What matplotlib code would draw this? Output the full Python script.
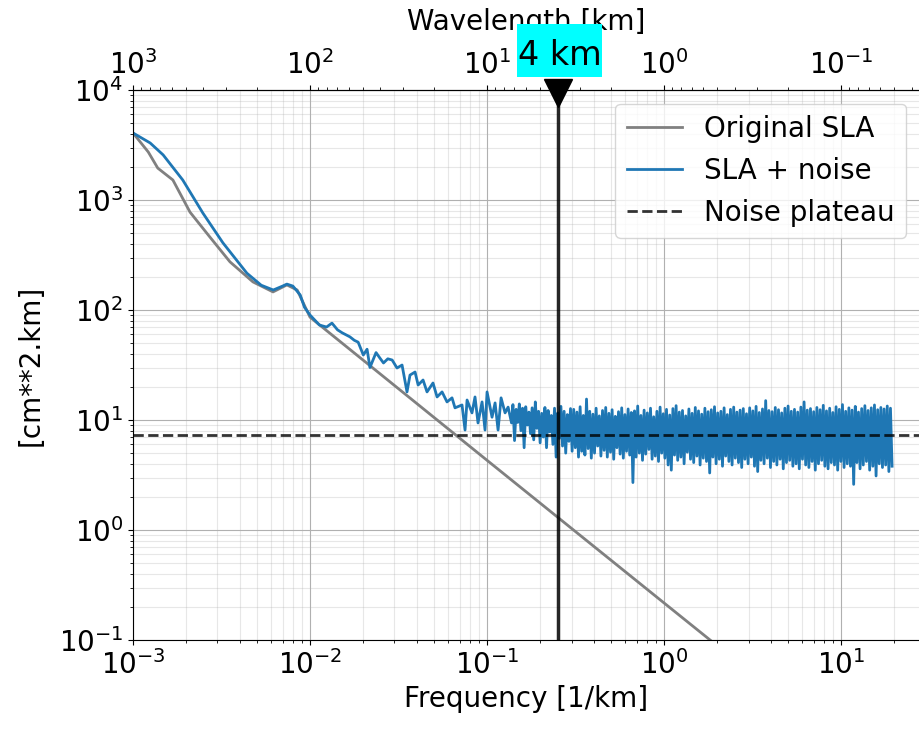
import matplotlib
matplotlib.use("Agg")
import matplotlib.pyplot as plt
from matplotlib.patches import Rectangle
from matplotlib.transforms import Affine2D, ScaledTranslation
import numpy as np

plt.rcParams['font.size'] = 20

############# DATA #############

# original SLA spectrum
f_orig = [1.0e-3, 1.22e-3, 1.38e-3, 1.68e-3, 2.1e-3, 2.72e-3, 3.53e-3, 4.76e-3,
          6.18e-3, 7.4e-3, 8.46e-3, 1.0e-2, 0.1, 1.0, 28.0]
psd_orig = [4070, 2730, 1950, 1520, 775, 460, 274, 180,
            146, 169, 152, 86, 4.3, 0.217, 0.0029]

# SLA + noise, low frequency part
f_noisy = [1.0e-3, 1.25e-3, 1.48e-3, 1.91e-3, 2.48e-3, 3.22e-3, 4.4e-3, 5.3e-3,
           6.2e-3, 7.0e-3, 7.4e-3, 8.0e-3, 8.8e-3, 9.3e-3, 1.0e-2,
           1.13e-2, 1.24e-2, 1.33e-2, 1.43e-2, 1.52e-2, 1.68e-2, 1.78e-2, 1.87e-2,
           2.0e-2, 2.1e-2, 2.18e-2, 2.36e-2, 2.48e-2, 2.6e-2, 2.75e-2, 2.91e-2,
           3.1e-2, 3.31e-2, 3.53e-2, 3.67e-2, 3.92e-2, 4.08e-2, 4.35e-2, 4.58e-2,
           4.95e-2, 5.22e-2, 5.57e-2, 5.94e-2, 6.34e-2, 6.59e-2, 7.22e-2, 7.51e-2,
           7.71e-2, 8.22e-2, 8.55e-2, 8.89e-2, 9.37e-2, 9.74e-2, 0.100, 0.1067,
           0.111, 0.1154, 0.120, 0.1264, 0.1315, 0.1375]
psd_noisy = [4070, 3300, 2570, 1520, 762, 408, 216, 168,
             152, 165, 172, 165, 137, 106, 90,
             73, 70, 76, 66, 62, 57, 53, 51,
             39, 44, 30, 41, 36.6, 33, 36, 35.1,
             29.7, 31.6, 18.0, 25.6, 27.3, 20.8, 23.1, 18.0,
             21.7, 16.2, 18.0, 14.6, 15.9, 12.9, 13.7, 8.1,
             15.2, 11.6, 16.2, 9.4, 14.6, 8.1, 18.0, 10.6,
             14.3, 8.1, 15.9, 11.6, 13.1, 9.4]

# SLA + noise, noise band from 0.14 to ~19.4 1/km (upper / lower excursions)
band_hi = [13.8, 12.5, 14.0, 12.8, 13.2, 11.8, 12.9, 14.6, 12.0, 11.5,
           13.0, 12.2, 11.0, 12.8, 11.6, 13.3, 12.0, 11.2, 12.7,
           12.5, 11.8, 13.2, 11.0, 15.5, 12.0, 11.3, 12.8, 10.9, 12.2,
           13.0, 11.5, 12.4, 10.8, 11.9, 12.9, 11.2, 12.6, 11.7, 12.1,
           13.4, 11.0, 12.3, 11.6, 12.8, 10.7, 12.0, 13.1, 11.4, 12.5,
           11.1, 12.7, 13.5, 11.8, 12.2, 10.9, 12.6, 11.5, 13.0, 12.1,
           11.3, 12.8, 11.9, 12.4, 13.2, 11.6, 12.0, 12.9, 11.2, 12.5,
           13.1, 11.8, 12.3, 12.7, 11.4, 12.9, 12.1, 13.3, 11.7, 12.6,
           15.0, 12.2, 11.9, 13.0, 12.4, 11.6, 12.8, 13.4, 12.0, 12.5,
           11.8, 13.1, 14.6, 12.3, 12.7, 11.9, 13.0, 12.4, 13.6, 12.1,
           12.8, 11.7, 13.2, 12.5, 13.8, 12.0, 12.9, 12.3, 13.3, 11.8,
           12.7, 13.5, 12.2, 12.9, 13.7, 12.4, 13.0, 12.6, 13.4, 12.8]
band_lo = [6.5, 9.5, 8.0, 5.6, 9.0, 7.5, 6.6, 8.4, 6.2, 7.0,
           5.6, 7.8, 6.0, 4.6, 6.8, 5.8, 5.0, 6.4, 5.2,
           5.6, 4.6, 5.2, 4.8, 5.5, 4.5, 5.0, 5.8, 4.7, 5.3,
           4.6, 5.1, 4.4, 5.6, 4.9, 4.5, 5.2, 4.8, 2.7, 4.6,
           5.0, 4.3, 4.9, 5.4, 4.4, 4.7, 4.2, 5.0, 4.5, 3.9,
           3.5, 4.8, 4.3, 4.6, 4.0, 5.1, 4.4, 4.1, 4.7, 3.9,
           4.5, 4.2, 3.3, 4.6, 4.0, 4.4, 3.8, 4.7, 4.2, 3.9,
           4.5, 4.1, 3.7, 4.4, 4.0, 4.6, 3.8, 3.4, 4.3, 4.0,
           4.5, 3.7, 4.2, 3.9, 4.4, 3.6, 4.1, 4.3, 3.8, 4.0,
           3.6, 4.4, 3.9, 3.7, 4.2, 3.5, 4.0, 4.3, 3.8, 3.6,
           4.1, 3.9, 3.5, 4.2, 3.7, 4.0, 3.8, 2.6, 4.1, 3.6,
           3.9, 4.2, 3.5, 3.8, 3.1, 4.0, 3.7, 3.9, 3.4, 3.8]
band_fmin, band_fmax = 0.14, 19.4

noise_plateau = 7.3
cut_wavelength = 4  # km

############# PLOT #############

band = np.empty(2 * len(band_hi))
band[0::2] = band_hi
band[1::2] = band_lo
f_band = np.geomspace(band_fmin, band_fmax, len(band))

f_all = np.concatenate([f_noisy, f_band])
psd_all = np.concatenate([psd_noisy, band])

fig = plt.figure(figsize=(9.2, 7.29), dpi=100)
ax = fig.add_axes([133 / 920, 89 / 729, 787 / 920, 550 / 729])

ax.loglog(f_orig, psd_orig, color='gray', lw=2, label='Original SLA')
ax.loglog(f_all, psd_all, color='tab:blue', lw=2, label='SLA + noise')
ax.axhline(noise_plateau, color='k', ls='--', lw=2, alpha=0.8, label='Noise plateau')
ax.axvline(1 / cut_wavelength, color='k', lw=2.5, alpha=0.85)

ax.set_xlim(1e-3, 27.9)
ax.set_ylim(1e-1, 1e4)
ax.grid(True, which='major', color='#b0b0b0', lw=0.8)
ax.grid(True, which='minor', color='#b0b0b0', lw=0.8, alpha=0.3)
ax.set_xlabel('Frequency [1/km]')
ax.set_ylabel('[cm**2.km]', labelpad=10)

secax = ax.secondary_xaxis('top', functions=(lambda x: 1 / x, lambda x: 1 / x))
secax.set_xlabel('Wavelength [km]', labelpad=15)

# marker + label for the cut wavelength
anchor = ScaledTranslation(1 / cut_wavelength, 1.0, ax.get_xaxis_transform())
pt_tr = Affine2D().scale(fig.dpi / 72) + anchor   # offsets in points from the top of the line
ax.plot([0], [-2], 'kv', ms=20, transform=pt_tr, clip_on=False, zorder=10)
ax.add_artist(Rectangle((-29.2, 9.4), 61.2, 38.2, transform=pt_tr,
                        fc='cyan', ec='none', clip_on=False, zorder=11))
ax.annotate(f'{cut_wavelength} km', xy=(1 / cut_wavelength, 1.0),
            xycoords=('data', 'axes fraction'), xytext=(1.4, 18),
            textcoords='offset points', ha='center', va='baseline', fontsize=24,
            annotation_clip=False, zorder=12)

ax.legend(loc='upper right')

plt.savefig('out.png', dpi=100)
